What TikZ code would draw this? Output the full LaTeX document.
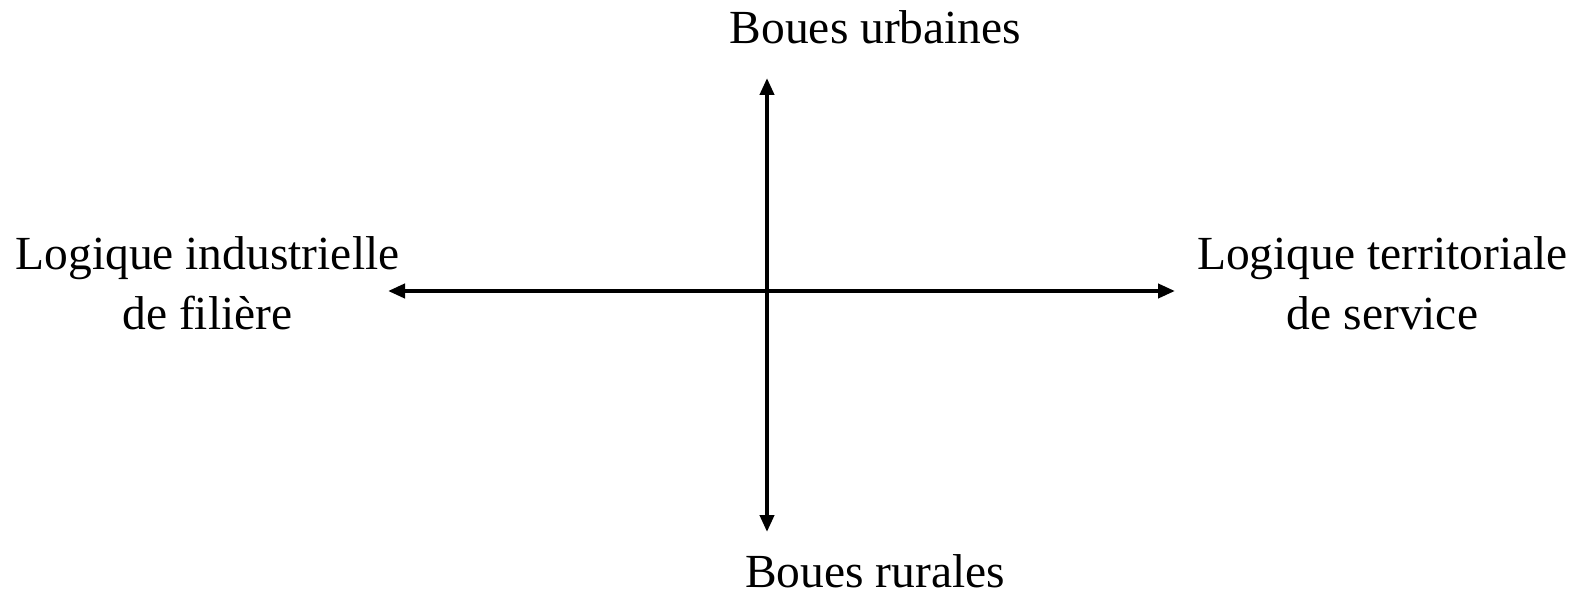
\documentclass[tikz,border=0pt]{standalone}
\usepackage{fontspec}
\setmainfont{Liberation Serif}
\usetikzlibrary{arrows.meta}
\begin{document}
\begin{tikzpicture}[x=1pt,y=-1pt,
  lbl/.style={inner sep=0pt,align=center,font=\fontsize{47.5}{60}\selectfont},
  axis/.style={line width=4pt,{Triangle[length=17pt,width=14pt]}-{Triangle[length=17pt,width=14pt]}}]
\useasboundingbox[fill=white] (0,0) rectangle (1591,593);
\coordinate (top) at (767,78);
\coordinate (bot) at (767,532);
\coordinate (lft) at (388,291);
\coordinate (rgt) at (1175,291);
\draw[axis] (bot) -- (top);
\draw[axis] (lft) -- (rgt);
\node[lbl,anchor=base] (urb) at (875.5,44) {Boues urbaines};
\node[lbl,anchor=base,text depth=0pt] (rur) at (875,587) {Boues rurales};
\node[lbl,anchor=base] (ind) at (207.5,330) {Logique industrielle\\de filière};
\node[lbl,anchor=base] (ter) at (1382.5,330) {Logique territoriale\\de service};
\end{tikzpicture}
\end{document}
